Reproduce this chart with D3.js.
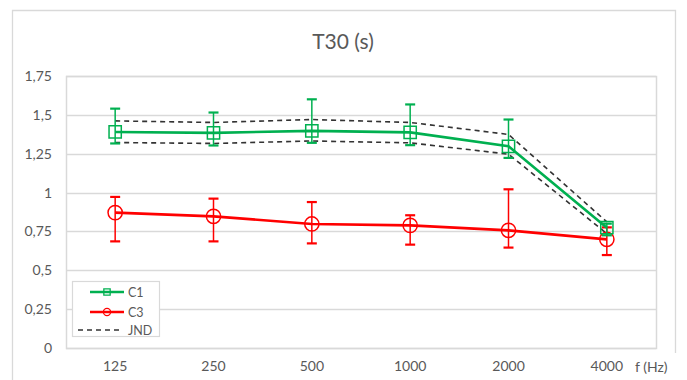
<!DOCTYPE html>
<html>
<head>
<meta charset="utf-8">
<script src="https://cdn.jsdelivr.net/npm/d3@7"></script>
<style>
  body { margin: 0; background: #fff; }
  svg text { font-family: Lato, "Open Sans", sans-serif; fill: #595959; }
</style>
</head>
<body>
<svg class="chart"></svg>
<script>
var width = 687,
    height = 380;

// data
var freqs = ["125", "250", "500", "1000", "2000", "4000"];
var c1 = [1.39, 1.384, 1.397, 1.387, 1.298, 0.774];
var c1Hi = [1.54, 1.515, 1.60, 1.567, 1.47, 0.80];
var c1Lo = [1.316, 1.303, 1.32, 1.305, 1.223, 0.725];
var c3 = [0.871, 0.847, 0.798, 0.789, 0.757, 0.699];
var c3Hi = [0.972, 0.961, 0.939, 0.854, 1.021, 0.776];
var c3Lo = [0.686, 0.686, 0.673, 0.665, 0.646, 0.598];
var jndHi = [1.461, 1.451, 1.470, 1.451, 1.374, 0.811];
var jndLo = [1.322, 1.316, 1.332, 1.320, 1.247, 0.736];
var yTicks = [0, 0.25, 0.5, 0.75, 1, 1.25, 1.5, 1.75];
var yTickLabels = ["0", "0,25", "0,5", "0,75", "1", "1,25", "1,5", "1,75"];

var green = "#00b050", red = "#ff0000", grid = "#d9d9d9";

var svg = d3.select(".chart")
    .attr("width", width)
    .attr("height", height);

// outer chart frame
svg.append("path")
    .attr("d", "M12.5,400V10.5H675.5V353")
    .attr("fill", "none")
    .attr("stroke", grid)
    .attr("stroke-width", 1.3);

var x = d3.scaleBand()
    .domain(freqs)
    .range([66, 656]);

var y = d3.scaleLinear()
    .domain([0, 1.75])
    .range([348, 76]);

var cx = function(i) { return x(freqs[i]) + x.bandwidth() / 2; };

svg.append("text")
    .attr("x", 343)
    .attr("y", 49)
    .attr("text-anchor", "middle")
    .style("font-size", "21px")
    .text("T30 (s)");

// grid
svg.append("g")
  .selectAll("line")
  .data(yTicks)
  .enter()
    .append("line")
    .attr("x1", 66)
    .attr("x2", 656)
    .attr("y1", function(d) { return Math.round(y(d)) + 0.5; })
    .attr("y2", function(d) { return Math.round(y(d)) + 0.5; })
    .attr("stroke", grid)
    .attr("stroke-width", 1.5);

svg.append("rect")
    .attr("x", 66.5).attr("y", 76.5)
    .attr("width", 590).attr("height", 272)
    .attr("fill", "none")
    .attr("stroke", grid)
    .attr("stroke-width", 1.5);

var yAxis = d3.axisLeft(y)
    .tickValues(yTicks)
    .tickFormat(function(d, i) { return yTickLabels[i]; })
    .tickSize(0)
    .tickPadding(14);

var gy = svg.append("g")
    .attr("transform", "translate(66,0)")
    .call(yAxis);
gy.select(".domain").remove();
gy.selectAll("text").style("font-size", "14px").attr("fill", "#595959");

var xAxis = d3.axisBottom(x).tickSize(0).tickPadding(13);
var gx = svg.append("g")
    .attr("transform", "translate(0,348)")
    .call(xAxis);
gx.select(".domain").remove();
gx.selectAll("text").style("font-size", "14px").attr("fill", "#595959");

svg.append("text")
    .attr("x", 635)
    .attr("y", 372)
    .style("font-size", "14px")
    .text("f (Hz)");

var line = d3.line()
    .x(function(d, i) { return cx(i); })
    .y(function(d) { return y(d); });

// JND band
[jndHi, jndLo].forEach(function(s) {
  svg.append("path")
      .attr("d", line(s))
      .attr("fill", "none")
      .attr("stroke", "#333")
      .attr("stroke-width", 1.6)
      .attr("stroke-dasharray", "5,4");
});

function series(vals, hi, lo, color, shape) {
  var g = svg.append("g");
  g.append("path")
      .attr("d", line(vals))
      .attr("fill", "none")
      .attr("stroke", color)
      .attr("stroke-width", 2.6);

  var eb = g.selectAll(".err")
    .data(vals)
    .enter()
      .append("g")
      .attr("class", "err")
      .attr("stroke", color)
      .attr("stroke-width", 1.5);
  eb.append("line")
      .attr("x1", function(d, i) { return cx(i); })
      .attr("x2", function(d, i) { return cx(i); })
      .attr("y1", function(d, i) { return y(hi[i]); })
      .attr("y2", function(d, i) { return y(lo[i]); });
  eb.append("line")
      .attr("x1", function(d, i) { return cx(i) - 5; })
      .attr("x2", function(d, i) { return cx(i) + 5; })
      .attr("y1", function(d, i) { return y(hi[i]); })
      .attr("y2", function(d, i) { return y(hi[i]); })
      .attr("stroke-width", 2.2);
  eb.append("line")
      .attr("x1", function(d, i) { return cx(i) - 5; })
      .attr("x2", function(d, i) { return cx(i) + 5; })
      .attr("y1", function(d, i) { return y(lo[i]); })
      .attr("y2", function(d, i) { return y(lo[i]); })
      .attr("stroke-width", 2.2);

  g.selectAll(".mk")
    .data(vals)
    .enter()
      .append("path")
      .attr("class", "mk")
      .attr("d", d3.symbol().type(shape).size(shape === d3.symbolSquare ? 150 : 160))
      .attr("transform", function(d, i) { return "translate(" + cx(i) + "," + y(d) + ")"; })
      .attr("fill", "none")
      .attr("stroke", color)
      .attr("stroke-width", 1.5);
}

series(c3, c3Hi, c3Lo, red, d3.symbolCircle);
series(c1, c1Hi, c1Lo, green, d3.symbolSquare);

// legend
var lg = svg.append("g");
lg.append("rect")
    .attr("x", 72.5).attr("y", 281.5)
    .attr("width", 87).attr("height", 55)
    .attr("fill", "#fff")
    .attr("stroke", grid)
    .attr("stroke-width", 1.2);

var legendItems = [
  { name: "C1", color: green, shape: d3.symbolSquare, y: 292 },
  { name: "C3", color: red, shape: d3.symbolCircle, y: 312 },
  { name: "JND", color: "#333", shape: null, y: 330 }
];

legendItems.forEach(function(it) {
  if (it.shape) {
    lg.append("line")
        .attr("x1", 90).attr("x2", 124)
        .attr("y1", it.y).attr("y2", it.y)
        .attr("stroke", it.color)
        .attr("stroke-width", 2.6);
    lg.append("path")
        .attr("d", d3.symbol().type(it.shape).size(40))
        .attr("transform", "translate(107," + it.y + ")")
        .attr("fill", "none")
        .attr("stroke", it.color)
        .attr("stroke-width", 1.3);
  } else {
    lg.append("line")
        .attr("x1", 78).attr("x2", 121)
        .attr("y1", it.y).attr("y2", it.y)
        .attr("stroke", it.color)
        .attr("stroke-width", 1.6)
        .attr("stroke-dasharray", "5,4");
  }
  lg.append("text")
      .attr("x", 128)
      .attr("y", it.y + 4.5)
      .style("font-size", "12.5px")
      .text(it.name);
});
</script>
</body>
</html>
